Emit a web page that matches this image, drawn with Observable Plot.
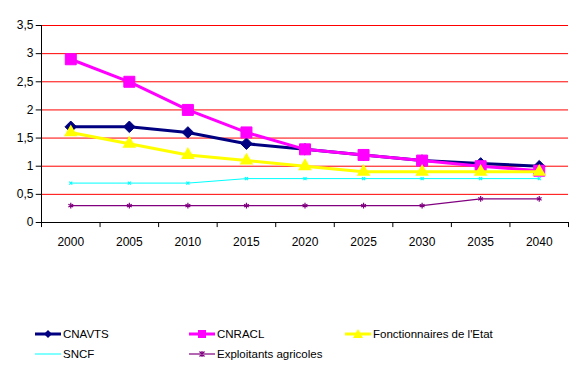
<!DOCTYPE html>
<html><head><meta charset="utf-8">
<script src="https://cdn.jsdelivr.net/npm/d3@7"></script>
<script src="https://cdn.jsdelivr.net/npm/@observablehq/plot@0.6"></script>
<style>
body{margin:0;background:#fff;font-family:"Liberation Sans",Arial,sans-serif;}
#wrap{position:relative;width:582px;height:368px;}
#legend{position:absolute;left:0;top:325px;width:582px;font-size:11.5px;color:#000;}
.item{position:absolute;display:flex;align-items:center;height:18px;}
.item svg{margin-right:2px}
</style></head>
<body><div id="wrap"><div id="chart"></div><div id="legend"></div></div>
<script>
const years = ["2000","2005","2010","2015","2020","2025","2030","2035","2040"];
const yTicks = [0,0.5,1,1.5,2,2.5,3,3.5];
const seriesNames = ["CNAVTS","CNRACL","Fonctionnaires de l'Etat","SNCF","Exploitants agricoles"];
const cnavts = [1.7,1.7,1.6,1.4,1.3,1.2,1.1,1.05,1.0];
const cnracl = [2.9,2.5,2.0,1.6,1.3,1.2,1.1,1.0,0.92];
const fonct  = [1.6,1.4,1.2,1.1,1.0,0.9,0.9,0.9,0.9];
const sncf   = [0.7,0.7,0.7,0.78,0.78,0.78,0.78,0.78,0.78];
const exploit= [0.3,0.3,0.3,0.3,0.3,0.3,0.3,0.42,0.42];

const styles = {
  "CNAVTS":{color:"#000080",width:3,symbol:"diamond2",r:5.2},
  "CNRACL":{color:"#ff00ff",width:3,symbol:"square",r:6.2},
  "Fonctionnaires de l'Etat":{color:"#ffff00",width:3,symbol:"triangle2",r:6.5},
  "SNCF":{color:"#00ffff",width:1,symbol:"times",r:1.5},
  "Exploitants agricoles":{color:"#800080",width:1.2,symbol:"asterisk",r:2.6}
};
const valuesBy = {"CNAVTS":cnavts,"CNRACL":cnracl,"Fonctionnaires de l'Etat":fonct,"SNCF":sncf,"Exploitants agricoles":exploit};
const idx = years.map((y,i)=>i);
const bounds = d3.range(years.length+1);

const marks = [
  Plot.ruleY(yTicks,{y:d=>d, x1:0, x2:years.length, stroke:"#ff0000", strokeWidth:1}),
  Plot.ruleX([0],{x:d=>d,y1:0,y2:3.5,stroke:"#000"}),
  Plot.ruleY([0],{y:d=>d,x1:0,x2:years.length,stroke:"#000"}),
  Plot.ruleY(yTicks,{y:d=>d, x1:0, x2:-0.09, stroke:"#000"}),
  Plot.ruleX(bounds,{x:d=>d, y1:0, y2:-0.09, stroke:"#000"}),
];
for (const name of seriesNames) {
  const s = styles[name];
  const data = idx.map(i=>({x:i+0.5,y:valuesBy[name][i]}));
  marks.push(Plot.line(data,{x:"x",y:"y",stroke:s.color,strokeWidth:s.width,curve:"linear"}));
  const isStroke = s.symbol==="times"||s.symbol==="asterisk";
  marks.push(Plot.dot(data,{x:"x",y:"y",symbol:()=>s.symbol,r:s.r,
    fill:isStroke?"none":s.color, stroke:isStroke?s.color:(name==="Fonctionnaires de l'Etat"?"none":s.color), strokeWidth:isStroke?1.2:1}));
}

const chart = Plot.plot({
  width:582, height:262,
  marginTop:25, marginBottom:40, marginLeft:41, marginRight:14,
  style:{fontFamily:"Liberation Sans, Arial, sans-serif", fontSize:"12px", color:"#000", background:"#fff"},
  x:{type:"linear",domain:[0,years.length],axis:null},
  y:{type:"linear",domain:[0,3.5],axis:null},
  symbol:{type:"identity"},
  marks:[
    ...marks,
    Plot.text(yTicks,{x:0,y:d=>d,text:d=>String(d).replace(".",","),textAnchor:"end",dx:-8,fontSize:12,fill:"#000"}),
    Plot.text(idx,{x:d=>d+0.5,y:0,text:d=>years[d],dy:20,fontSize:12,fill:"#000"})
  ]
});
document.getElementById("chart").appendChild(chart);

// Legend
const pos = [[35,0],[189,0],[345,0],[35,20],[189,20]];
const leg = document.getElementById("legend");
seriesNames.forEach((name,i)=>{
  const s = styles[name];
  const div = document.createElement("div");
  div.className="item"; div.style.left=pos[i][0]+"px"; div.style.top=pos[i][1]+"px";
  let marker = "";
  if (s.symbol==="diamond2") marker = `<path d="M13,5L17,9L13,13L9,9Z" fill="${s.color}"/>`;
  else if (s.symbol==="square") marker = `<rect x="9" y="5" width="8" height="8" fill="${s.color}"/>`;
  else if (s.symbol==="triangle2") marker = `<path d="M13,4L18,13L8,13Z" fill="${s.color}"/>`;
  else if (s.symbol==="asterisk") marker = `<path d="M10.5,6.5L15.5,11.5M15.5,6.5L10.5,11.5M13,6L13,12" stroke="${s.color}" stroke-width="1.2"/>`;
  div.innerHTML = `<svg width="26" height="18"><line x1="0" x2="26" y1="9" y2="9" stroke="${s.color}" stroke-width="${s.width}"/>${marker}</svg><span>${name}</span>`;
  leg.appendChild(div);
});
</script></body></html>
